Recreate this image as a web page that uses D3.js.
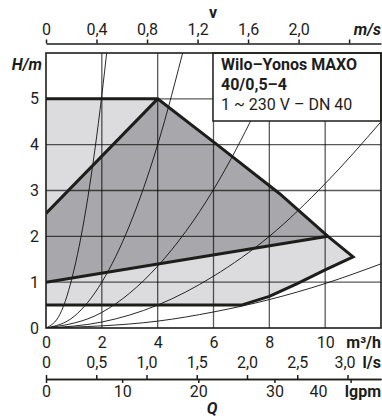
<!DOCTYPE html>
<html><head><meta charset="utf-8">
<script src="https://cdn.jsdelivr.net/npm/d3@7"></script>
<style>
html,body{margin:0;padding:0;background:#fff;}
svg{display:block;font-family:Roboto,"DejaVu Sans",sans-serif;}
</style></head><body>
<svg id="chart" width="382" height="419"></svg>
<script>
// ---- data ----
const flowTicks = [0, 2, 4, 6, 8, 10];            // m³/h
const headTicks = [0, 1, 2, 3, 4, 5];             // m
const velocityTicks = [0, 0.4, 0.8, 1.2, 1.6, 2.0, 2.4]; // m/s
const velocityLabels = ["0", "0,4", "0,8", "1,2", "1,6", "2,0", ""];
const litreTicks = [0, 0.5, 1.0, 1.5, 2.0, 2.5, 3.0];    // l/s
const litreLabels = ["0", "0,5", "1,0", "1,5", "2,0", "2,5", "3,0"];
const lgpmTicks = [0, 10, 20, 30, 40];
const lgpmLabels = ["0", "10", "20", "30", "40"];
const gridQ = [2, 4, 6, 8, 10];
const gridH = [1, 2, 3, 4, 5];

// max-speed envelope (Q m³/h, H m)
const maxCurve = [[0, 5], [4, 5], [6, 4.06], [8.37, 2.93], [10.1, 2.0], [11.0, 1.55]];
// lower (min) boundary, from right to left
const minCurve = [[11.0, 1.55], [10, 1.27], [9, 0.97], [8, 0.69], [7, 0.5], [0, 0.5]];
// dark zone borders
const rampLine = [[0, 2.5], [4, 5]];
const midLine = [[0, 1.0], [10.1, 2.0]];
const darkZone = [[0, 1.0], [0, 2.5], [4, 5], [6, 4.06], [8.37, 2.93], [10.1, 2.0]];

// thin system curves through the origin (read points)
const systemCurves = [
  [[0, 0], [0.5, 0.3], [1, 1.26], [1.5, 2.85], [2, 5.08], [2.2, 6.15]],
  [[0, 0], [1, 0.25], [2, 1.0], [3, 2.25], [4, 4.0], [5, 6.25]],
  [[0, 0], [2, 0.34], [4, 1.35], [6, 3.02], [7.3, 4.48], [8.6, 6.2]],
  [[0, 0], [2, 0.13], [4, 0.5], [6, 1.13], [8, 2.0], [10, 3.15], [12, 4.5]],
  [[0, 0], [4, 0.15], [6, 0.35], [8, 0.62], [10, 0.97], [12, 1.4]]
];

const legendLines = ["Wilo–Yonos MAXO", "40/0,5–4", "1 ~ 230 V – DN 40"];

// ---- scales ----
const L = 46, R = 381, T = 53, B = 328;
const x = d3.scaleLinear().domain([0, 12]).range([L, R]);
const y = d3.scaleLinear().domain([0, 6]).range([B, T]);
const xv = d3.scaleLinear().domain([0, 12 / 3600 / (Math.PI * 0.02 * 0.02)]).range([L, R]);
const xl = d3.scaleLinear().domain([0, 12 / 3.6]).range([L, R]);
const xg = d3.scaleLinear().domain([0, 12 / 0.272765]).range([L, R]);

const svg = d3.select("#chart");
svg.append("rect").attr("width", 382).attr("height", 419).attr("fill", "#fff");

svg.append("defs").append("clipPath").attr("id", "plotclip")
  .append("rect").attr("x", L).attr("y", T).attr("width", R - L).attr("height", B - T);

const plot = svg.append("g").attr("clip-path", "url(#plotclip)");
const line = d3.line().x(d => x(d[0])).y(d => y(d[1]));

// fills
plot.append("path")
  .attr("d", line(maxCurve.concat(minCurve.slice(1))) + "Z")
  .attr("fill", "#dcdcde");
plot.append("path")
  .attr("d", line(darkZone) + "Z")
  .attr("fill", "#a8a8ac");

// grid
plot.append("g").selectAll("line").data(gridQ).join("line")
  .attr("x1", d => x(d)).attr("x2", d => x(d)).attr("y1", T).attr("y2", B)
  .attr("stroke", "#000").attr("stroke-opacity", 0.65).attr("stroke-width", 1.3);
plot.append("g").selectAll("line").data(gridH).join("line")
  .attr("y1", d => y(d)).attr("y2", d => y(d)).attr("x1", L).attr("x2", R)
  .attr("stroke", "#000").attr("stroke-opacity", 0.65).attr("stroke-width", 1.3);

// system curves
const smooth = d3.line().x(d => x(d[0])).y(d => y(d[1])).curve(d3.curveMonotoneX);
plot.append("g").selectAll("path").data(systemCurves).join("path")
  .attr("d", smooth).attr("fill", "none").attr("stroke", "#111").attr("stroke-width", 0.9);

// thick outlines
const thick = plot.append("g").attr("fill", "none").attr("stroke", "#1d1d1b")
  .attr("stroke-width", 3).attr("stroke-linejoin", "miter");
thick.append("path").attr("d", line(maxCurve.concat(minCurve.slice(1))));
thick.append("path").attr("d", line(rampLine));
thick.append("path").attr("d", line(midLine));

// legend box
const lg = svg.append("g");
lg.append("rect").attr("x", 213).attr("y", T).attr("width", R - 213).attr("height", 68)
  .attr("fill", "#fff").attr("stroke", "#1d1d1b").attr("stroke-width", 1.5);
lg.selectAll("text").data(legendLines).join("text")
  .attr("x", 221).attr("y", (d, i) => [70, 90, 110][i])
  .attr("font-size", 16).attr("font-weight", (d, i) => i < 2 ? "bold" : "normal")
  .attr("fill", "#1d1d1b").text(d => d);

// frame
svg.append("rect").attr("x", L).attr("y", T).attr("width", R - L).attr("height", B - T)
  .attr("fill", "none").attr("stroke", "#1d1d1b").attr("stroke-width", 1.6);

// ---- axes ----
function styleAxis(g) {
  g.attr("font-family", null).attr("font-size", null);
  g.selectAll("text").attr("font-size", 16).attr("fill", "#1d1d1b");
  g.selectAll("line").attr("stroke", "#1d1d1b").attr("stroke-width", 1.5);
  g.selectAll(".domain").attr("stroke", "#1d1d1b").attr("stroke-width", 1.6);
}

// top velocity axis
svg.append("g").attr("transform", "translate(0,43.5)")
  .call(d3.axisTop(xv).tickValues(velocityTicks).tickSize(4).tickSizeOuter(0).tickPadding(4.5)
    .tickFormat((d, i) => velocityLabels[i]))
  .call(styleAxis);

// left head axis
svg.append("g").attr("transform", `translate(${L},0)`)
  .call(d3.axisLeft(y).tickValues(headTicks).tickSize(0).tickPadding(7).tickFormat(d3.format("d")))
  .call(styleAxis)
  .call(g => g.select(".domain").remove());

// bottom m³/h axis
svg.append("g").attr("transform", `translate(0,${B})`)
  .call(d3.axisBottom(x).tickValues(flowTicks).tickSize(0).tickPadding(8.6).tickFormat(d3.format("d")))
  .call(styleAxis)
  .call(g => g.select(".domain").remove());

// l/s axis (ticks up)
svg.append("g").attr("transform", "translate(0,379)")
  .call(d3.axisTop(xl).tickValues(litreTicks).tickSize(4).tickSizeOuter(0).tickPadding(7)
    .tickFormat((d, i) => litreLabels[i]))
  .call(styleAxis)
  .call(g => g.selectAll(".tick text").filter(d => d === 3.0).attr("dx", -3));

// lgpm axis (ticks down)
svg.append("g").attr("transform", "translate(0,379)")
  .call(d3.axisBottom(xg).tickValues(lgpmTicks).tickSize(4).tickSizeOuter(0).tickPadding(2.6)
    .tickFormat((d, i) => lgpmLabels[i]))
  .call(styleAxis)
  .call(g => g.selectAll(".tick text").filter(d => d === 40).attr("x", 318 - xg(40)));

// unit labels
const units = [
  {t: "v", x: 213, y: 18, a: "middle", s: "normal"},
  {t: "m/s", x: 381, y: 35, a: "end", s: "italic"},
  {t: "H/m", x: 42, y: 70, a: "end", s: "italic"},
  {t: "m³/h", x: 381, y: 348, a: "end", s: "normal"},
  {t: "l/s", x: 381, y: 368, a: "end", s: "normal"},
  {t: "lgpm", x: 381, y: 397, a: "end", s: "normal"},
  {t: "Q", x: 212, y: 414, a: "middle", s: "italic"}
];
svg.append("g").selectAll("text").data(units).join("text")
  .attr("x", d => d.x).attr("y", d => d.y).attr("text-anchor", d => d.a)
  .attr("font-style", d => d.s).attr("font-weight", "bold").attr("font-size", 16)
  .attr("fill", "#1d1d1b").text(d => d.t);
</script>
</body></html>
